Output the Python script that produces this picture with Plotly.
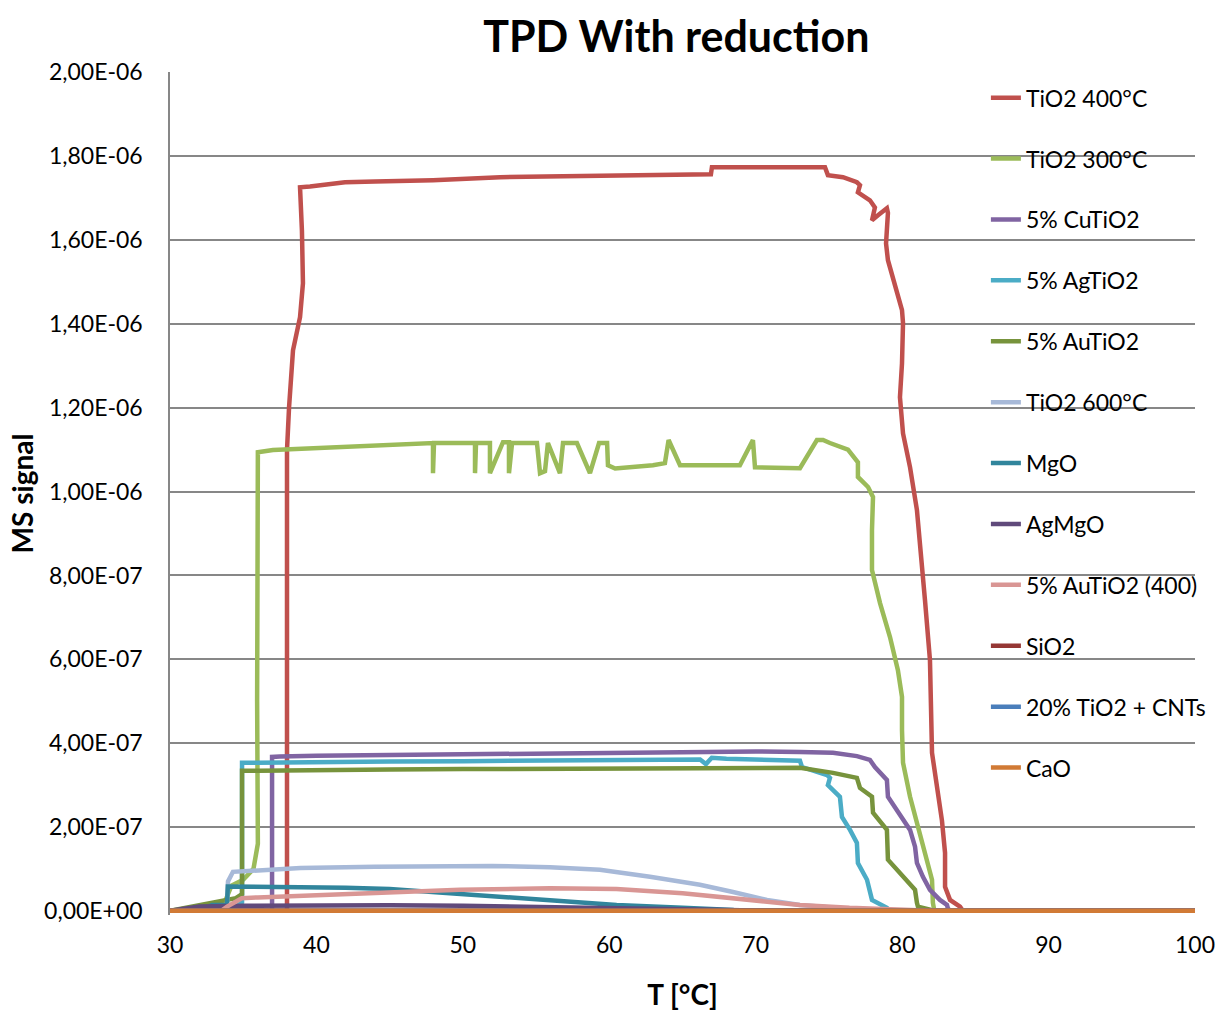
import plotly.graph_objects as go

SCALE = 1e-7  # values below are in units of 1e-7

# ---- data (T in °C, MS signal in 1e-7) ----
tio2_400_T = [30, 37.99, 37.99, 37.99, 38.13, 38.40, 38.88, 39.08, 39.01, 38.88, 38.88, 39.56, 40.93, 41.95, 44.0,
              47.96, 52.54, 56.63, 62.78, 66.94, 67.01, 74.73, 74.93, 75.96, 76.91, 77.12, 76.98, 77.80, 78.14,
              77.94, 78.35, 78.96, 79.03, 78.90, 79.03, 79.65, 79.99, 80.06, 79.99, 79.85, 80.06, 80.54, 81.01,
              81.56, 81.90, 82.04, 82.72, 82.93, 82.93, 83.27, 83.95, 84.15, 100]
tio2_400_v = [0, 0, 5.03, 10.99, 12.01, 13.37, 14.16, 14.97, 16.23, 17.19, 17.26, 17.28, 17.33, 17.38, 17.40,
              17.43, 17.50, 17.52, 17.57, 17.57, 17.74, 17.74, 17.55, 17.50, 17.38, 17.31, 17.14, 16.95, 16.78,
              16.47, 16.59, 16.76, 16.65, 15.92, 15.52, 14.80, 14.33, 14.02, 13.06, 12.25, 11.39, 10.58, 9.56,
              7.41, 5.98, 3.77, 2.15, 1.38, 0.57, 0.26, 0.10, 0, 0]

tio2_300_T = [30, 33.5, 34.2, 35.0, 35.7, 36.0, 35.95, 36.0, 37.03, 40.04, 44.55, 47.96, 47.96, 48.03, 50.83,
              50.83, 50.90, 51.85, 51.85, 52.74, 53.15, 53.15, 53.36, 55.06, 55.27, 55.61, 55.81, 56.63, 56.84,
              57.79, 58.68, 59.3, 59.85, 59.91, 60.4, 62.98, 63.80, 64.05, 64.83, 68.92, 69.81, 69.95, 73.02,
              74.18, 74.6, 75.07, 75.96, 76.3, 76.98, 76.98, 77.67, 78.01, 77.94, 77.94, 78.49, 79.17, 79.71,
              79.99, 79.99, 80.06, 80.54, 81.01, 81.69, 82.04, 82.10, 82.2, 100]
tio2_300_v = [0, 0, 0.6, 0.74, 1.0, 1.6, 5.0, 10.94, 10.99, 11.04, 11.11, 11.16, 10.44, 11.16, 11.16,
              10.44, 11.16, 11.16, 10.44, 11.18, 11.18, 10.44, 11.16, 11.16, 10.44, 10.49, 11.16, 10.44, 11.16,
              11.16, 10.44, 11.16, 11.16, 10.63, 10.55, 10.63, 10.68, 11.23, 10.63, 10.63, 11.23, 10.58, 10.56,
              11.23, 11.23, 11.16, 11.06, 11.0, 10.70, 10.35, 10.11, 9.87, 9.08, 8.13, 7.34, 6.53, 5.74,
              5.10, 4.31, 3.53, 2.72, 2.10, 1.29, 0.74, 0.19, 0, 0]

cu_T = [30, 36.97, 36.97, 37.5, 40, 45, 50, 55, 60, 65, 70, 73.02, 75.28, 76.91, 77.80, 78.14, 78.96, 79.03,
        79.65, 80.54, 80.88, 81.01, 81.42, 81.90, 82.58, 83.06, 83.13, 83.3, 100]
cu_v = [0, 0, 3.67, 3.68, 3.70, 3.72, 3.73, 3.75, 3.77, 3.79, 3.80, 3.79, 3.77, 3.69, 3.60, 3.43, 3.12, 2.72,
        2.41, 1.93, 1.53, 1.14, 0.81, 0.50, 0.26, 0.14, 0.05, 0, 0]

ag_T = [30, 34.5, 34.92, 34.92, 36, 40, 45, 50, 55, 60, 65, 66.2, 66.6, 67.0, 68, 70, 73.02, 73.16, 74.87,
        75.07, 74.93, 75.75, 75.89, 76.44, 76.91, 76.98, 77.60, 77.94, 78.69, 78.96, 79.17, 100]
ag_v = [0, 0.1, 0.2, 3.53, 3.53, 3.55, 3.56, 3.57, 3.58, 3.60, 3.61, 3.61, 3.50, 3.65, 3.63, 3.62, 3.58, 3.43,
        3.24, 3.17, 3.00, 2.72, 2.24, 1.93, 1.62, 1.14, 0.74, 0.26, 0.14, 0.07, 0, 0]

au_T = [30, 34.5, 34.92, 34.92, 36, 40, 45, 50, 55, 60, 65, 70, 73.02, 75.28, 76.91, 77.12, 77.94, 78.01,
        78.96, 79.03, 79.85, 80.88, 81.01, 81.08, 81.9, 82.1, 100]
au_v = [0, 0.3, 0.4, 3.34, 3.34, 3.36, 3.37, 3.38, 3.39, 3.40, 3.41, 3.42, 3.41, 3.29, 3.17, 2.93, 2.72, 2.34,
        1.93, 1.22, 0.91, 0.50, 0.19, 0.10, 0.03, 0, 0]

tio2_600_T = [30, 33.8, 33.9, 33.96, 34.3, 36, 38.9, 44, 49.12, 52, 55.95, 59.36, 62.78, 65.03, 66.19, 68.45,
              70.77, 73.02, 75.28, 78, 100]
tio2_600_v = [0, 0, 0.2, 0.7, 0.93, 0.96, 1.02, 1.05, 1.06, 1.07, 1.04, 0.98, 0.81, 0.69, 0.62, 0.45,
              0.26, 0.14, 0.07, 0.0, 0]

mgo_T = [30, 32.0, 32.87, 33.89, 33.95, 38, 42, 45, 49.12, 52, 55.95, 60.5, 65, 68.5, 72, 100]
mgo_v = [0, 0, 0.14, 0.14, 0.58, 0.57, 0.55, 0.52, 0.42, 0.36, 0.26, 0.14, 0.07, 0.02, 0, 0]

agmgo_T = [30, 31, 32, 35, 40, 45, 50, 55, 58, 62, 66, 70, 75, 100]
agmgo_v = [0, 0.05, 0.1, 0.12, 0.13, 0.13, 0.12, 0.1, 0.08, 0.05, 0.03, 0.01, 0, 0]

au400_T = [30, 33.5, 33.9, 34.9, 36, 40, 45, 49.8, 55.95, 60.5, 65.0, 69.6, 73.0, 76.4, 80, 82, 100]
au400_v = [0, 0, 0.1, 0.30, 0.32, 0.38, 0.44, 0.50, 0.54, 0.52, 0.42, 0.26, 0.14, 0.07, 0.02, 0, 0]

sio2_T = [30, 100]
sio2_v = [0, 0]
cnt_T = [30, 100]
cnt_v = [0, 0]
cao_T = [30, 100]
cao_v = [0, 0]

y_tickvals = [0, 2e-7, 4e-7, 6e-7, 8e-7, 1e-6, 1.2e-6, 1.4e-6, 1.6e-6, 1.8e-6, 2e-6]
y_ticktext = ["0,00E+00", "2,00E-07", "4,00E-07", "6,00E-07", "8,00E-07", "1,00E-06",
              "1,20E-06", "1,40E-06", "1,60E-06", "1,80E-06", "2,00E-06"]
x_tickvals = [30, 40, 50, 60, 70, 80, 90, 100]

series = [
    ("TiO2 400°C", tio2_400_T, tio2_400_v, "#C0504D"),
    ("TiO2 300°C", tio2_300_T, tio2_300_v, "#9BBB59"),
    ("5% CuTiO2", cu_T, cu_v, "#8064A2"),
    ("5% AgTiO2", ag_T, ag_v, "#4BACC6"),
    ("5% AuTiO2", au_T, au_v, "#77933C"),
    ("TiO2 600°C", tio2_600_T, tio2_600_v, "#A7B9D8"),
    ("MgO", mgo_T, mgo_v, "#31859C"),
    ("AgMgO", agmgo_T, agmgo_v, "#604A7B"),
    ("5% AuTiO2 (400)", au400_T, au400_v, "#D99694"),
    ("SiO2", sio2_T, sio2_v, "#953735"),
    ("20% TiO2 + CNTs", cnt_T, cnt_v, "#4A7EBB"),
    ("CaO", cao_T, cao_v, "#D17A35"),
]

FONT = "Lato"
fig = go.Figure()
for i, (name, xs, vs, col) in enumerate(series):
    fig.add_trace(go.Scatter(
        x=xs, y=[v * SCALE for v in vs], mode="lines", name=name,
        legendgroup=f"g{i}",
        line=dict(color=col, width=4.5),
    ))

fig.update_layout(
    width=1217, height=1014,
    margin=dict(l=170, r=22, t=72, b=99, autoexpand=False),
    paper_bgcolor="white", plot_bgcolor="white",
    font=dict(family=FONT, size=23, color="black"),
    title=dict(text="<b>TPD With reduction</b>", font=dict(family=FONT, size=43, color="black"),
               x=0.494, xref="paper", xanchor="center", y=0.964, yref="container", yanchor="middle"),
    legend=dict(x=0.796, y=0.995, xanchor="left", yanchor="top", bgcolor="rgba(0,0,0,0)",
                font=dict(family=FONT, size=23, color="black"), tracegroupgap=28,
                itemwidth=30),
    showlegend=True,
)
fig.update_xaxes(range=[30, 100], tickvals=x_tickvals, showgrid=False, zeroline=False,
                 showline=False, ticks="", ticklabelstandoff=14, automargin=False,
                 title=dict(text="<b>T [°C]</b>", font=dict(family=FONT, size=28), standoff=28))
fig.update_yaxes(range=[-1e-8, 2.001e-6], tickvals=y_tickvals, ticktext=y_ticktext,
                 showgrid=True, gridcolor="#878787", gridwidth=1.5,
                 zeroline=True, zerolinecolor="#878787", zerolinewidth=1.5,
                 showline=True, linecolor="#878787", linewidth=1.5, ticks="", ticklabelstandoff=21,
                 automargin=False,
                 title=dict(text="<b>MS signal</b>", font=dict(family=FONT, size=28), standoff=2))

fig.write_html("out.html")
